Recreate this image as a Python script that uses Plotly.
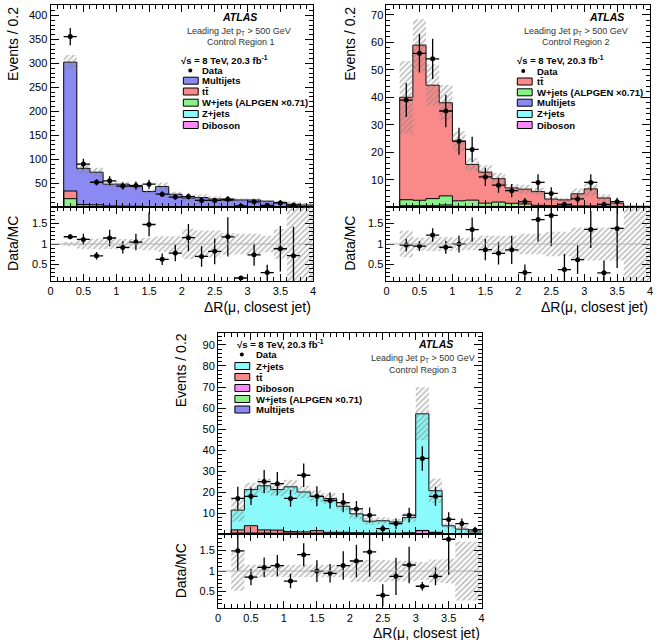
import numpy as np
import plotly.graph_objects as go

W, H = 663, 640
FONT = "Liberation Sans, Arial, Helvetica, sans-serif"

# ---------------- data ----------------
bin_edges = [0.0, 0.2, 0.4, 0.6, 0.8, 1.0, 1.2, 1.4, 1.6, 1.8, 2.0,
             2.2, 2.4, 2.6, 2.8, 3.0, 3.2, 3.4, 3.6, 3.8, 4.0]

# Control Region 1
cr1_multijets = [0, 269, 75.6, 68.1, 45.6, 46, 41.2, 31.2, 41.9, 26, 18.2, 19.4, 16.4, 13.5, 14.5, 14.5, 12.1, 9.6, 5.7, 4.2]
cr1_ttbar = [0, 16, 4, 3.5, 1.5, 1.2, 1.0, 0.8, 0.6, 0.5, 0.4, 0.3, 0.3, 0.2, 0.2, 0.2, 0.1, 0.1, 0.1, 0.1]
cr1_wjets = [0, 17, 1.0, 1.0, 0.6, 0.5, 0.5, 0.4, 0.4, 0.3, 0.3, 0.2, 0.2, 0.2, 0.2, 0.1, 0.1, 0.1, 0.1, 0.1]
cr1_zjets = [0, 0.5, 0.3, 0.3, 0.2, 0.2, 0.2, 0.1, 0.1, 0.1, 0.1, 0.1, 0.1, 0.1, 0.1, 0.1, 0.1, 0.1, 0.05, 0.05]
cr1_diboson = [0, 0.2, 0.1, 0.1, 0.1, 0.1, 0.1, 0.05, 0.05, 0.05, 0.05, 0.05, 0.05, 0.05, 0.05, 0.05, 0.05, 0.05, 0.05, 0.05]
cr1_data = [None, 356, 90, 52, 55, 44, 45, 48, 27, 21, 22, 14, 14, 16.5, 2.6, 11, 3.8, 8.8, 4.3, None]
cr1_data_err = [None, 18, 11, 6.6, 9.6, 7.2, 8.6, 9.4, 6, 5.4, 6.3, 5, 5.3, 6.7, 0.6, 4, 2.4, 5.5, 4.2, None]
cr1_syst = [None, 0.05, 0.13, 0.13, 0.13, 0.12, 0.12, 0.15, 0.19, 0.19, 0.37, 0.33, 0.33, 0.27, 0.25, 0.25, 0.2, 0.36, 0.95, 0.95]

# Control Region 2
cr2_ttbar = [0, 37.3, 56.5, 41.3, 33.9, 21.7, 13.0, 11.3, 8.5, 5.6, 5.4, 5.0, 2.4, 2.2, 4.4, 6.2, 3.0, 1.2, 0.15, 0.15]
cr2_wjets = [0, 2.2, 2.0, 2.6, 3.3, 2.0, 2.3, 1.2, 1.6, 1.2, 1.0, 0.5, 0.4, 0.3, 0.3, 0.3, 0.2, 0.1, 0.05, 0.05]
cr2_multijets = [0, 0.2, 0.2, 0.2, 0.6, 0.1, 0.1, 0.1, 0.1, 0.1, 0.05, 0.05, 0.05, 0.05, 0.05, 0.05, 0.05, 0.05, 0, 0]
cr2_zjets = [0, 0.2, 0.2, 0.2, 0.1, 0.1, 0.1, 0.1, 0.1, 0.05, 0.05, 0.05, 0.05, 0.05, 0.05, 0.05, 0.05, 0.05, 0.05, 0.05]
cr2_diboson = [0, 0.1, 0.1, 0.1, 0.1, 0.1, 0.05, 0.05, 0.05, 0.05, 0.05, 0.05, 0.05, 0.05, 0.05, 0.05, 0.05, 0.05, 0.05, 0.05]
cr2_data = [None, 39, 56, 54, 35, 24, 21, 11, 8, 6, 2, 9, 5, 1, 3, 9, 1, 2, None, None]
cr2_data_err = [None, 6.2, 7, 7.3, 5.9, 4.9, 4.6, 3.3, 2.8, 2.4, 1.3, 3, 2.2, 1, 1.7, 3, 1, 1.4, None, None]
cr2_syst = [None, 0.33, 0.16, 0.17, 0.17, 0.15, 0.15, 0.2, 0.2, 0.2, 0.25, 0.25, 0.3, 0.3, 0.4, 0.4, 0.4, 0.4, 0.98, 0.98]

# Control Region 3
cr3_zjets = [0, 9.4, 17.2, 21.0, 19.3, 21.3, 19.0, 16.4, 16.1, 12.4, 9.0, 5.6, 5.8, 5.3, 7.2, 55.5, 19.8, 3.7, 2.2, 0.9]
cr3_ttbar = [0, 1.5, 3.5, 1.5, 1.5, 0.7, 0.7, 1.2, 0.6, 0.5, 0.4, 0.3, 0.3, 0.2, 0.2, 0.1, 0.3, 0.1, 0.05, 0.05]
cr3_diboson = [0, 0.1, 0.1, 0.2, 0.1, 0.2, 0.1, 0.2, 0.1, 0.2, 0.1, 0.1, 0.1, 0.1, 0.3, 1.5, 0.4, 0.1, 0.05, 0.05]
cr3_wjets = [0, 0.3, 0.3, 0.2, 0.2, 0.2, 0.2, 0.2, 0.1, 0.1, 0.1, 0.1, 0.1, 0.1, 0.1, 0.1, 0.1, 0.05, 0.05, 0.05]
cr3_multijets = [0, 0.1, 0.1, 0.1, 0.1, 0.1, 0.05, 0.05, 0.05, 0.05, 0.05, 0.05, 0.05, 0.05, 0.05, 0.05, 0.05, 0, 0, 0]
cr3_data = [None, 17, 18, 25, 24, 17, 28, 18, 16, 15, 12, 9, 2.6, 5, 9, 36, 18, 7, 5, 2]
cr3_data_err = [None, 5.5, 4.2, 5.5, 5.5, 4, 5.6, 4.8, 3.8, 4.6, 3.8, 3.7, 1.7, 2.6, 3.5, 5.8, 4.5, 3.4, 2.4, 1.5]
cr3_syst = [None, 0.48, 0.15, 0.15, 0.15, 0.15, 0.15, 0.15, 0.15, 0.15, 0.27, 0.27, 0.27, 0.25, 0.25, 0.22, 0.28, 0.3, 0.72, 0.72]

# ---------------- style ----------------
C_MJ = "#8a8af2"
C_TT = "#fa8a8a"
C_W = "#8af08a"
C_Z = "#8afafa"
C_D = "#fa8afa"

edges = np.array(bin_edges)
centers = (edges[:-1] + edges[1:]) / 2


def px(v):
    return v / W


def py(v):
    return 1 - v / H


fig = go.Figure()


def step_y(vals):
    vals = list(vals)
    return vals + [vals[-1]]


def add_stack(xa, ya, comps):
    cum = np.zeros(len(centers))
    for i, (vals, color) in enumerate(comps):
        cum = cum + np.array(vals, dtype=float)
        fig.add_trace(go.Scatter(
            x=edges, y=step_y(cum), mode="lines",
            line=dict(shape="hv", color="black", width=1),
            fill="tozeroy" if i == 0 else "tonexty", fillcolor=color,
            xaxis=xa, yaxis=ya, hoverinfo="skip", showlegend=False))
    return cum


def add_band(xa, ya, center, rel):
    rel = np.array([np.nan if r is None else r for r in rel], dtype=float)
    lo = center * (1 - rel)
    hi = center * (1 + rel)
    xs = edges[1:]
    fig.add_trace(go.Scatter(
        x=xs, y=step_y(lo[1:]), mode="lines",
        line=dict(shape="hv", width=0, color="rgba(0,0,0,0)"),
        xaxis=xa, yaxis=ya, hoverinfo="skip", showlegend=False))
    fig.add_trace(go.Scatter(
        x=xs, y=step_y(hi[1:]), mode="lines",
        line=dict(shape="hv", width=0, color="rgba(0,0,0,0)"),
        fill="tonexty", fillcolor="rgba(0,0,0,0)",
        fillpattern=dict(shape="/", fgcolor="#808080", bgcolor="rgba(0,0,0,0)",
                         size=4, solidity=0.45, fillmode="overlay"),
        xaxis=xa, yaxis=ya, hoverinfo="skip", showlegend=False))


def add_points(xa, ya, xs, ys, es):
    fig.add_trace(go.Scatter(
        x=xs, y=ys, mode="markers",
        marker=dict(color="black", size=5),
        error_x=dict(type="constant", value=0.1, width=0, thickness=1.3, color="black"),
        error_y=dict(type="data", array=es, width=0, thickness=1.3, color="black"),
        xaxis=xa, yaxis=ya, hoverinfo="skip", showlegend=False))


def panel(xm, ym, xr, yr, comps, data, err, syst):
    tot = add_stack(xm, ym, comps)
    add_band(xm, ym, tot, syst)
    d = np.array([np.nan if v is None else v for v in data], dtype=float)
    e = np.array([np.nan if v is None else v for v in err], dtype=float)
    m = ~np.isnan(d)
    add_points(xm, ym, centers[m], d[m], e[m])
    # ratio
    add_band(xr, yr, np.ones(len(centers)), syst)
    with np.errstate(divide="ignore", invalid="ignore"):
        r = d / tot
        re = e / tot
    mr = m & (r < 1.9) & (r > 0.1)
    add_points(xr, yr, centers[mr], r[mr], re[mr])


panel("x", "y", "x2", "y2",
      [(cr1_diboson, C_D), (cr1_zjets, C_Z), (cr1_wjets, C_W), (cr1_ttbar, C_TT), (cr1_multijets, C_MJ)],
      cr1_data, cr1_data_err, cr1_syst)
panel("x3", "y3", "x4", "y4",
      [(cr2_diboson, C_D), (cr2_zjets, C_Z), (cr2_multijets, C_MJ), (cr2_wjets, C_W), (cr2_ttbar, C_TT)],
      cr2_data, cr2_data_err, cr2_syst)
panel("x5", "y5", "x6", "y6",
      [(cr3_multijets, C_MJ), (cr3_wjets, C_W), (cr3_diboson, C_D), (cr3_ttbar, C_TT), (cr3_zjets, C_Z)],
      cr3_data, cr3_data_err, cr3_syst)

# ---------------- axes ----------------
TF = dict(family=FONT, size=11, color="black")


def xcfg(x0, x1, anchor, labels):
    return dict(domain=[px(x0), px(x1)], anchor=anchor, range=[0, 4],
                tickmode="linear", tick0=0, dtick=0.5,
                ticks="inside", ticklen=7, tickwidth=1, tickcolor="black",
                minor=dict(ticks="inside", ticklen=4, tick0=0, dtick=0.1, tickcolor="black", tickwidth=1),
                showline=True, linecolor="black", linewidth=1, mirror="allticks",
                showgrid=False, zeroline=False, showticklabels=labels, tickfont=TF)


def ycfg(y0, y1, anchor, rng, dtick, mdtick, tick0=0):
    return dict(domain=[py(y1), py(y0)], anchor=anchor, range=rng,
                tickmode="linear", tick0=tick0, dtick=dtick,
                ticks="inside", ticklen=8, tickwidth=1, tickcolor="black",
                minor=dict(ticks="inside", ticklen=4, tick0=0, dtick=mdtick, tickcolor="black", tickwidth=1),
                showline=True, linecolor="black", linewidth=1, mirror="allticks",
                showgrid=False, zeroline=False, tickfont=TF)


P1 = (48, 313)
P2 = (387, 653)
P3 = (217, 483)

fig.update_layout(
    width=W, height=H, margin=dict(l=0, r=0, t=0, b=0),
    paper_bgcolor="white", plot_bgcolor="white",
    font=dict(family=FONT, color="black"),
    showlegend=False,
    xaxis=xcfg(*P1, "y", False), yaxis=ycfg(5, 207, "x", [0.3, 422], 50, 10),
    xaxis2=xcfg(*P1, "y2", True), yaxis2=ycfg(207, 281, "x2", [0.1, 1.9], 0.5, 0.1, 0.5),
    xaxis3=xcfg(*P2, "y3", False), yaxis3=ycfg(5, 207, "x3", [0.05, 73.6], 10, 2),
    xaxis4=xcfg(*P2, "y4", True), yaxis4=ycfg(207, 281, "x4", [0.1, 1.9], 0.5, 0.1, 0.5),
    xaxis5=xcfg(*P3, "y5", False), yaxis5=ycfg(333, 534, "x5", [0.05, 95.7], 10, 2),
    xaxis6=xcfg(*P3, "y6", True), yaxis6=ycfg(534, 608, "x6", [0.1, 1.9], 0.5, 0.1, 0.5),
)

# line at 1 in ratio panels
for xa, ya in [("x2", "y2"), ("x4", "y4"), ("x6", "y6")]:
    fig.add_shape(type="line", xref=xa, yref=ya, x0=0, x1=4, y0=1, y1=1,
                  line=dict(color="#b0b0b0", width=1))

ann = []


def text(x, y, s, size=9.5, xanchor="left", yanchor="middle", color="black", angle=0):
    ann.append(dict(x=px(x), y=py(y), xref="paper", yref="paper", text=s, showarrow=False,
                    xanchor=xanchor, yanchor=yanchor, textangle=angle,
                    font=dict(family=FONT, size=size, color=color)))


# axis titles
for (x0, x1), ytop, ymain_title_x, rmid, xtitle_y in [
        (P1, 5, 10, 243, 307), (P2, 5, 350, 243, 307), (P3, 331, 180, 571, 633)]:
    text(ymain_title_x, ytop, "Events / 0.2", size=14, xanchor="center", yanchor="top", angle=-90)
    text(ymain_title_x, rmid, "Data/MC", size=14, xanchor="center", yanchor="middle", angle=-90)
    text(x1, xtitle_y, "ΔR(μ, closest jet)", size=14, xanchor="right")

# ATLAS labels
text(239, 17, "<b><i>ATLAS</i></b>", size=10.5, xanchor="center")
text(238, 31, "Leading Jet p<sub>T</sub> > 500 GeV", size=9, xanchor="center", color="#333")
text(240, 42, "Control Region 1", size=9, xanchor="center", color="#333")
text(609, 17, "<b><i>ATLAS</i></b>", size=10.5, xanchor="center")
text(578, 31, "Leading Jet p<sub>T</sub> > 500 GeV", size=9, xanchor="center", color="#333")
text(578, 42, "Control Region 2", size=9, xanchor="center", color="#333")
text(436, 344, "<b><i>ATLAS</i></b>", size=10.5, xanchor="center")
text(424, 358, "Leading Jet p<sub>T</sub> > 500 GeV", size=9, xanchor="center", color="#333")
text(424, 370, "Control Region 3", size=9, xanchor="center", color="#333")

TT = "tt\u0304"
legends = [
    dict(sx=178, sy=60, box=(182, 197), tx=199, data=(189, 70.5),
         rows=[("Multijets", C_MJ, 80.7), (TT, C_TT, 91.5), ("W+jets (ALPGEN ×0.71)", C_W, 102.7),
               ("Z+jets", C_Z, 114), ("Diboson", C_D, 125)]),
    dict(sx=517, sy=60, box=(519, 534), tx=537, data=(525, 71),
         rows=[(TT, C_TT, 81.5), ("W+jets (ALPGEN ×0.71)", C_W, 92.3), ("Multijets", C_MJ, 102.7),
               ("Z+jets", C_Z, 114), ("Diboson", C_D, 125)]),
    dict(sx=234, sy=343.5, box=(234, 249), tx=253, data=(241, 354.5),
         rows=[("Z+jets", C_Z, 366), (TT, C_TT, 377), ("Diboson", C_D, 388),
               ("W+jets (ALPGEN ×0.71)", C_W, 399), ("Multijets", C_MJ, 409.5)]),
]
for L in legends:
    text(L["sx"], L["sy"], "<b>√s = 8 TeV, 20.3 fb<sup>-1</sup></b>", size=9.5)
    dx, dy = L["data"]
    fig.add_shape(type="circle", xref="paper", yref="paper",
                  x0=px(dx - 2), x1=px(dx + 2), y0=py(dy + 2), y1=py(dy - 2),
                  fillcolor="black", line=dict(color="black", width=0))
    text(L["tx"], dy, "<b>Data</b>", size=9.5)
    b0, b1 = L["box"]
    for name, col, yy in L["rows"]:
        fig.add_shape(type="rect", xref="paper", yref="paper",
                      x0=px(b0), x1=px(b1), y0=py(yy + 3.5), y1=py(yy - 3.5),
                      fillcolor=col, line=dict(color="black", width=1))
        text(L["tx"], yy, "<b>" + name + "</b>", size=9.5)

fig.update_layout(annotations=ann)
fig.write_html("out.html")
